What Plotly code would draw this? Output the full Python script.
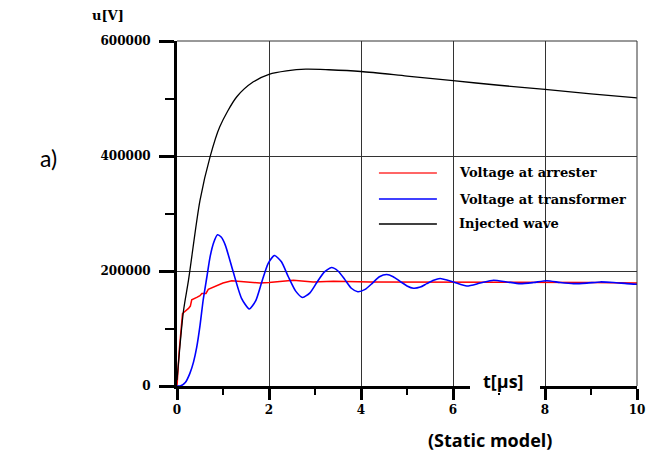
import plotly.graph_objects as go

# Injected wave
t_inj = [0, 0.14, 0.25, 0.5, 0.72, 0.93, 1.3, 1.66, 2.0, 2.38, 2.8, 3.3, 4.0, 5.0, 6.0, 7.0, 8.0, 9.0, 10.0]
v_inj = [10000, 130000, 184000, 323000, 399000, 451000, 503000, 529000, 542000, 548000, 551000,
         550000, 547000, 539000, 531000, 523000, 516000, 508000, 501000]

# Voltage at transformer
t_tr = [0, 0.07, 0.18, 0.28, 0.36, 0.43, 0.5, 0.57, 0.65, 0.72, 0.80, 0.88, 0.96, 1.05, 1.22, 1.40,
        1.57, 1.71, 1.84, 1.98, 2.12, 2.27, 2.42, 2.58, 2.73, 2.89, 3.04, 3.20, 3.36, 3.50, 3.65, 3.79,
        3.93, 4.09, 4.25, 4.40, 4.56, 4.70, 4.85, 5.00, 5.14, 5.29, 5.43, 5.58, 5.72, 6.01, 6.30, 6.59,
        6.88, 7.17, 7.46, 7.75, 8.04, 8.33, 8.62, 8.91, 9.20, 9.49, 9.78, 10.0]
v_tr = [0, 0, 6000, 22000, 42000, 68000, 105000, 150000, 190000, 225000, 250000, 263000, 259000,
        245000, 199000, 153000, 134000, 148000, 180000, 213000, 227000, 216000, 190000, 165000,
        154000, 162000, 180000, 198000, 206000, 200000, 185000, 170000, 164000, 168000, 179000,
        190000, 194000, 190000, 182000, 174000, 170000, 172000, 178000, 184000, 187000, 181000,
        174000, 179000, 184000, 181000, 178000, 180000, 183000, 180000, 178000, 179000, 181000,
        180000, 178000, 177000]

# Voltage at arrester
t_ar = [0, 0.05, 0.12, 0.2, 0.25, 0.29, 0.32, 0.43, 0.5, 0.54, 0.63, 0.68, 0.86, 1.0, 1.19, 1.44,
        1.8, 2.0, 2.53, 2.96, 3.4, 4.2, 5.0, 6.0, 7.0, 8.0, 9.0, 10.0]
v_ar = [0, 63000, 126000, 131000, 135000, 139000, 150000, 154000, 157000, 161000, 161000, 168000,
        174000, 179000, 183000, 181000, 179000, 180000, 184000, 181000, 182000, 181000, 181000,
        181000, 180000, 180000, 180000, 179000]

x_ticks = [0, 2, 4, 6, 8, 10]
y_ticks = [0, 200000, 400000, 600000]
legend_names = ["Voltage at arrester", "Voltage at transformer", "Injected wave"]
legend_colors = ["#ff3333", "#0000ff", "#000000"]

fig = go.Figure()
fig.add_trace(go.Scatter(x=t_ar, y=v_ar, mode="lines", name=legend_names[0],
                         line=dict(color="#ff0000", width=1.5)))
fig.add_trace(go.Scatter(x=t_tr, y=v_tr, mode="lines", name=legend_names[1],
                         line=dict(color="#0000ff", width=1.6, shape="spline", smoothing=0.6)))
fig.add_trace(go.Scatter(x=t_inj, y=v_inj, mode="lines", name=legend_names[2],
                         line=dict(color="#000000", width=1.3, shape="spline", smoothing=0.8)))

tickfont = dict(family="DejaVu Serif", size=12, color="black", weight="bold")

fig.update_layout(
    width=647, height=466,
    margin=dict(l=177, r=10, t=41, b=80, autoexpand=False),
    paper_bgcolor="white", plot_bgcolor="white",
    showlegend=False,
    xaxis=dict(range=[0, 10], tickvals=x_ticks, ticktext=[str(v) for v in x_ticks],
               showline=True, linewidth=3, linecolor="black", automargin=False,
               ticks="outside", ticklen=11, tickwidth=3, tickcolor="black",
               minor=dict(dtick=1, ticks="outside", ticklen=6, tickwidth=2, tickcolor="black", showgrid=False),
               showgrid=True, gridcolor="#333333", gridwidth=1, zeroline=False,
               tickfont=tickfont),
    yaxis=dict(range=[0, 600000], tickvals=y_ticks, ticktext=[str(v) for v in y_ticks],
               showline=True, linewidth=3, linecolor="black", automargin=False,
               ticks="outside", ticklen=15, tickwidth=3, tickcolor="black",
               minor=dict(dtick=100000, ticks="outside", ticklen=9, tickwidth=2, tickcolor="black", showgrid=False),
               showgrid=True, gridcolor="#333333", gridwidth=1, zeroline=False,
               tickfont=tickfont, ticklabelstandoff=6),
)

# frame grid lines at the top and right edges
fig.add_shape(type="line", xref="paper", yref="paper", x0=0, x1=1, y0=1, y1=1,
              line=dict(color="#333333", width=1))
fig.add_shape(type="line", xref="paper", yref="paper", x0=1, x1=1, y0=0, y1=1,
              line=dict(color="#333333", width=1))

# manual legend
leg_y = [0.6174, 0.542, 0.4696]
for name, col, yy in zip(legend_names, legend_colors, leg_y):
    fig.add_shape(type="line", xref="paper", yref="paper", x0=0.439, x1=0.565, y0=yy, y1=yy,
                  line=dict(color=col, width=1.5))
    fig.add_annotation(xref="paper", yref="paper", x=0.6087, y=yy, xanchor="left", yanchor="middle",
                       text=name, showarrow=False,
                       font=dict(family="DejaVu Serif", size=13, color="black", weight="bold"))

# axis title t[μs] with white box over axis line
fig.add_shape(type="rect", xref="paper", yref="paper", x0=(470 - 177) / 460, x1=(540 - 177) / 460,
              y0=(386 - 393) / 345, y1=(386 - 375) / 345, fillcolor="white", line=dict(width=0),
              layer="above")
fig.add_annotation(xref="paper", yref="paper", x=(503 - 177) / 460, y=(386 - 381) / 345,
                   xanchor="center", yanchor="middle", text="t[μs]", showarrow=False,
                   font=dict(family="Open Sans", size=18, color="black", weight="bold"))

fig.add_annotation(xref="paper", yref="paper", x=(108 - 177) / 460, y=(386 - 15) / 345,
                   xanchor="center", yanchor="middle", text="u[V]", showarrow=False,
                   font=dict(family="DejaVu Serif", size=13, color="black", weight="bold"))
fig.add_annotation(xref="paper", yref="paper", x=(48 - 177) / 460, y=(386 - 158) / 345,
                   xanchor="center", yanchor="middle", text="a)", showarrow=False,
                   font=dict(family="Lato", size=23, color="black"))
fig.add_annotation(xref="paper", yref="paper", x=(490 - 177) / 460, y=(386 - 440) / 345,
                   xanchor="center", yanchor="middle", text="(Static model)", showarrow=False,
                   font=dict(family="Open Sans", size=18, color="black", weight="bold"))

fig.write_html("out.html", post_script="document.body.style.margin='0';",
               config={"displayModeBar": False})
